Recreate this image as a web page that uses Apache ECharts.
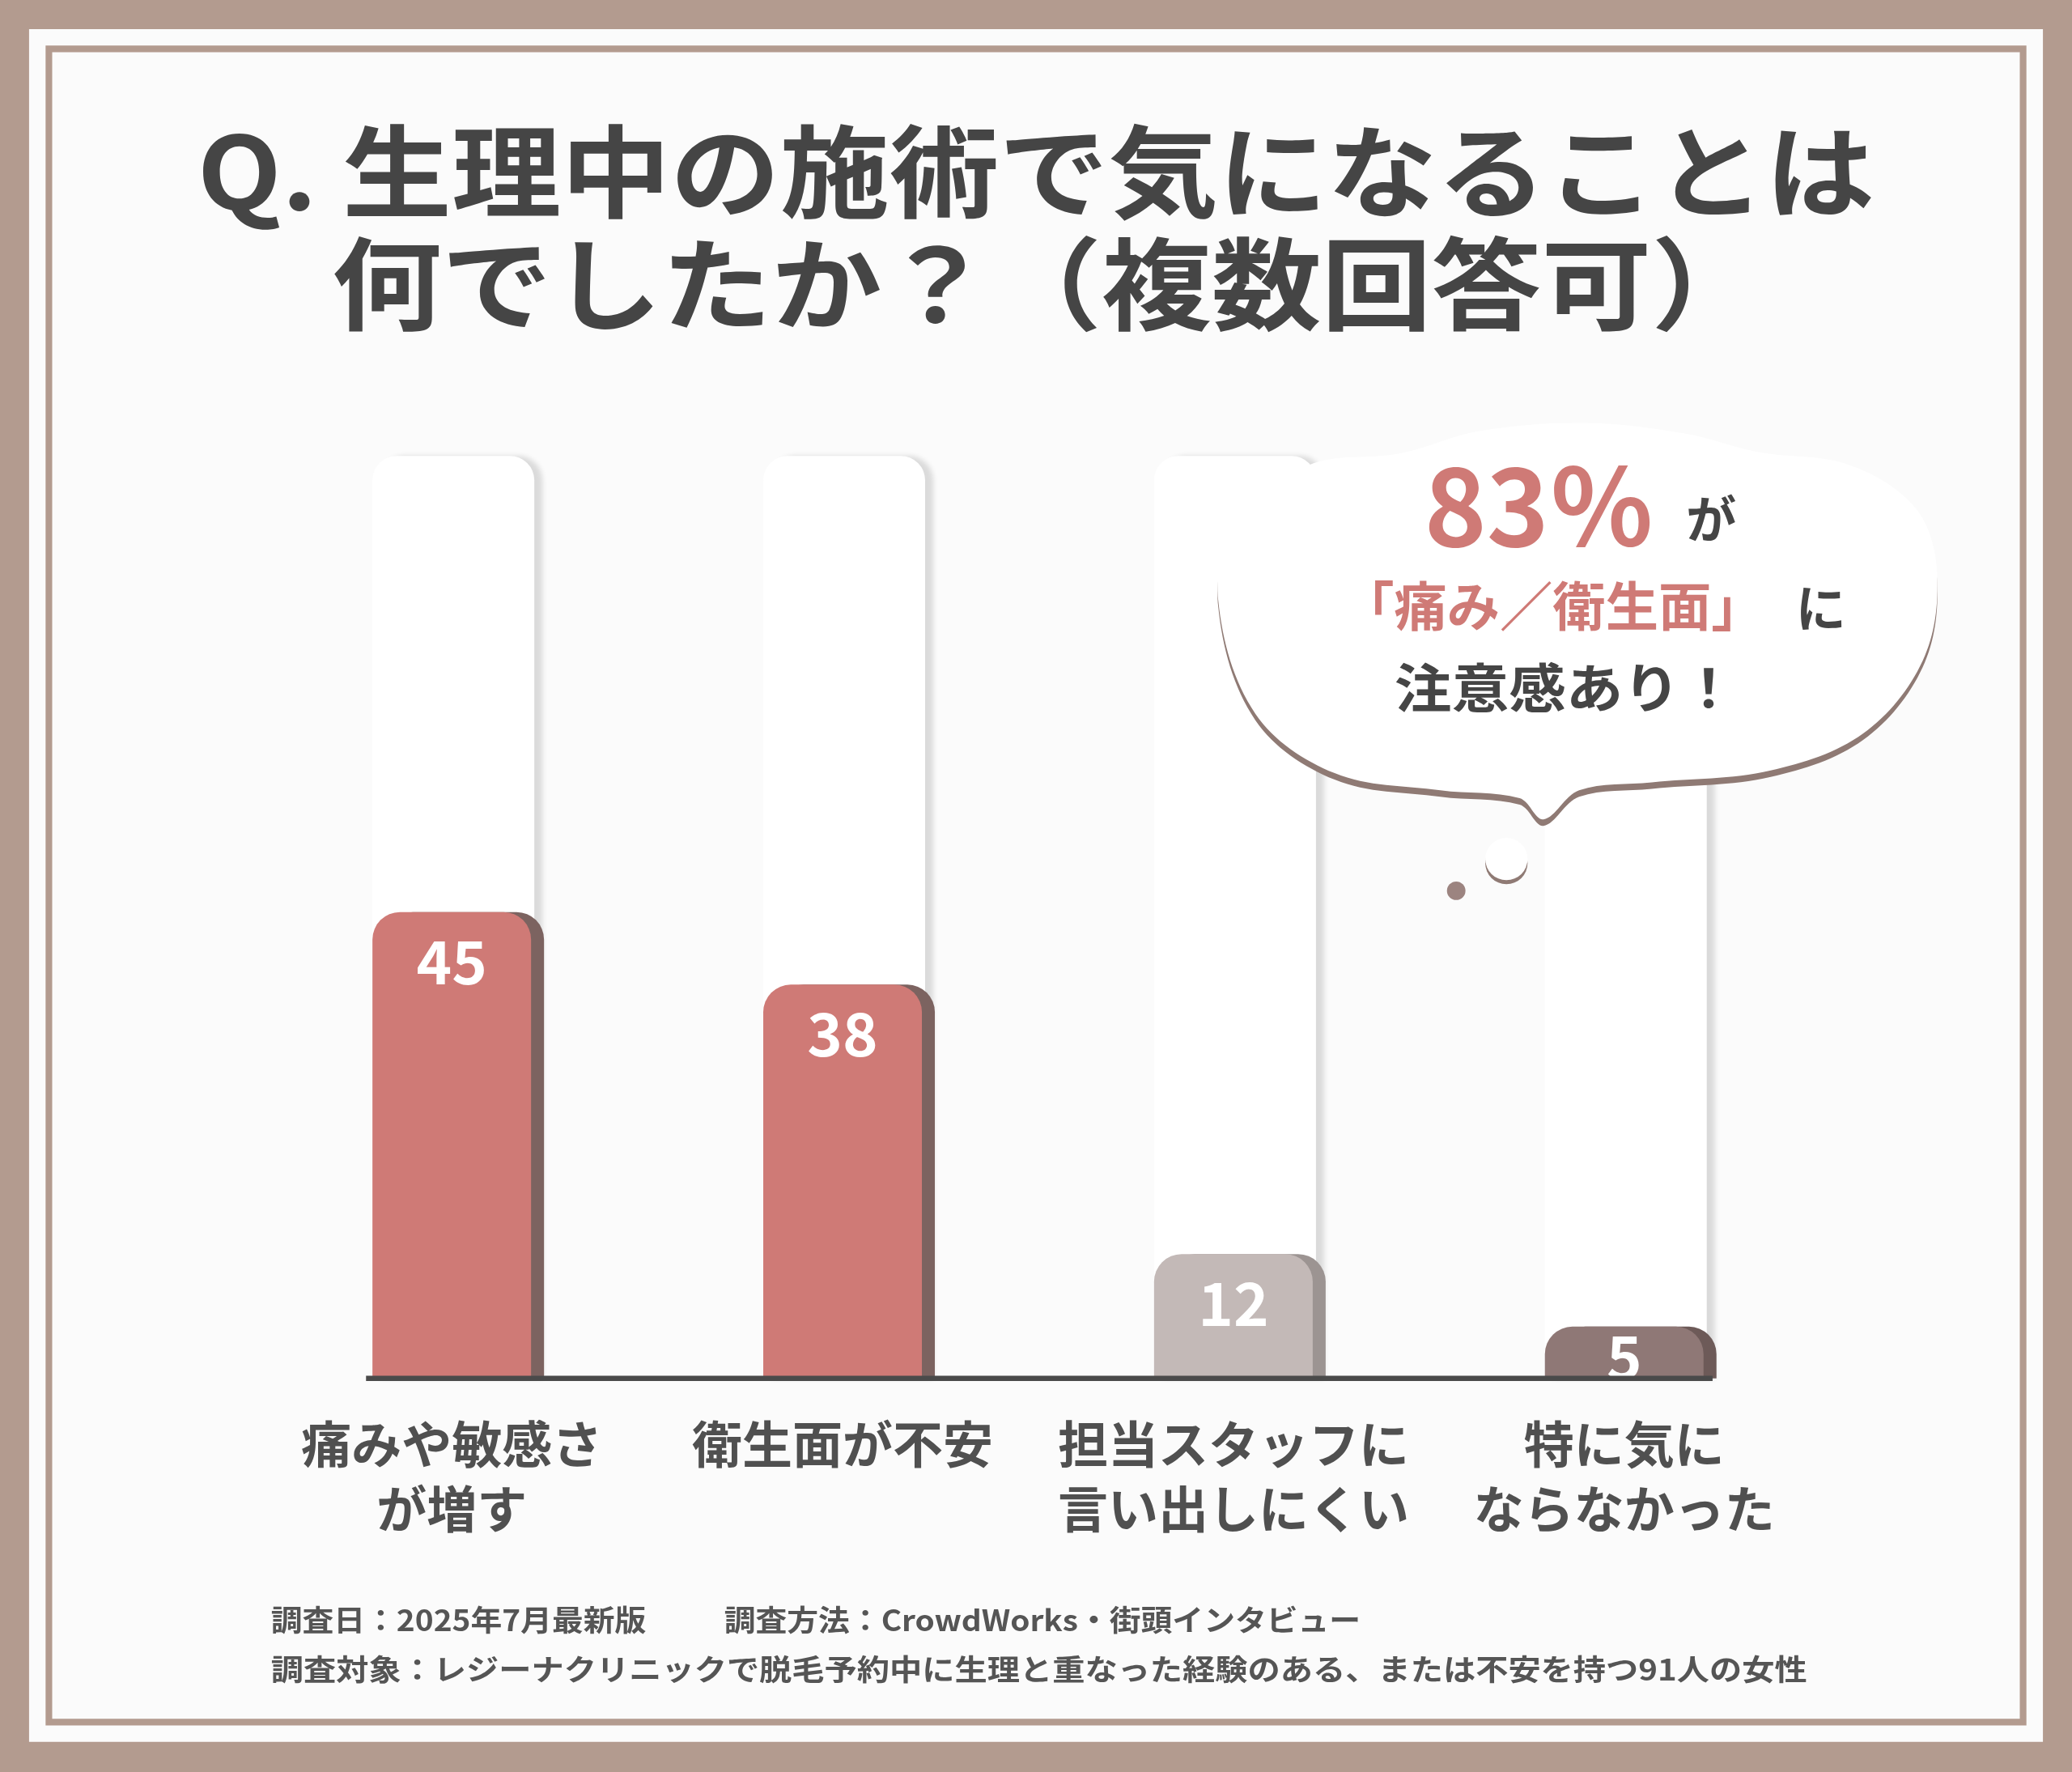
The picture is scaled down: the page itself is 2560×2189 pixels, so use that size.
<!DOCTYPE html>
<html><head><meta charset="utf-8">
<script src="https://cdn.jsdelivr.net/npm/echarts@6/dist/echarts.min.js"></script>
<style>html,body{margin:0;padding:0;background:#b39b8f}#c{width:2560px;height:2189px}</style>
</head><body><div id="c"></div>
<script>
const categories = ['痛みや敏感さ\nが増す', '衛生面が不安', '担当スタッフに\n言い出しにくい', '特に気に\nならなかった'];
const values = [45, 38, 12, 5];
const barColors = ['#cf7a76', '#cf7a76', '#c3b9b7', '#8f7876'];
const edgeColors = ['#7c6360', '#7c6360', '#9c9492', '#6d5a58'];
const trackMax = 89;

const S = 2560 / 1568;
const F = '"Noto Sans CJK JP", sans-serif';
const chart = echarts.init(document.getElementById('c'), null, {renderer: 'canvas'});
const txt = (x, y, text, size, color, align, sx, z) => ({
  type: 'text', x, y, scaleX: sx || 1, z: z || 0,
  style: {text, fontSize: size, fontWeight: 'bold', fill: color, fontFamily: F, align: align || 'center', verticalAlign: 'middle'}
});
const cloud = [[922,455],[935,395],[990,352],[1060,343],[1120,326],[1200,320],[1275,328],[1330,342],[1400,352],[1450,385],[1466,435],[1455,500],[1410,555],[1340,583],[1250,592],[1195,598],[1168,620],[1150,604],[1090,598],[1010,585],[950,540]];
const ZB = 200;

chart.setOption({
  backgroundColor: '#b39b8f',
  grid: {left: 194 * S, right: 2560 - 1377 * S, top: 345 * S, bottom: 2189 - 1043 * S},
  xAxis: {
    type: 'category', data: categories,
    axisLine: {show: false}, axisTick: {show: false},
    axisLabel: {interval: 0, color: '#505050', fontSize: 62, fontWeight: 'bold', fontFamily: F, lineHeight: 80, margin: 42, verticalAlign: 'top'}
  },
  yAxis: {type: 'value', min: 0, max: trackMax, show: false, splitLine: {show: false}},
  series: [
    {
      type: 'bar', data: values.map(() => trackMax), barWidth: 200, barGap: '-100%', silent: true, z: 1,
      itemStyle: {color: '#ffffff', borderRadius: [30, 30, 0, 0], shadowColor: 'rgba(0,0,0,0.13)', shadowOffsetX: 10, shadowBlur: 6}
    },
    {
      type: 'bar', barWidth: 196, z: 3,
      data: values.map((v, i) => ({value: v, itemStyle: {color: barColors[i], shadowColor: edgeColors[i]},
        label: {distance: v < 10 ? 0 : 24}})),
      itemStyle: {borderRadius: [34, 34, 0, 0], shadowOffsetX: 16, shadowBlur: 0},
      label: {show: true, position: 'insideTop', color: '#fff', fontSize: 74, fontWeight: 'bold', fontFamily: F}
    }
  ],
  graphic: [
    {
      type: 'group', scaleX: S, scaleY: S, z: -10,
      children: [
        {type: 'rect', z: -10, shape: {x: 22, y: 22, width: 1524, height: 1296}, style: {fill: '#fbfbfb'}},
        {type: 'rect', z: -9, shape: {x: 37, y: 37, width: 1494, height: 1266}, style: {fill: 'none', stroke: '#b39b8f', lineWidth: 5}},
        txt(784, 130, 'Q. 生理中の施術で気になることは', 76, '#454545', 'center', 1.09),
        txt(792, 215, '何でしたか？（複数回答可）', 76, '#454545', 'center', 1.095),
        txt(205, 1226, '調査日：2025年7月最新版', 22, '#555', 'left', 1.08),
        txt(548, 1226, '調査方法：CrowdWorks・街頭インタビュー', 22, '#555', 'left', 1.08),
        txt(205, 1263, '調査対象：レジーナクリニックで脱毛予約中に生理と重なった経験のある、または不安を持つ91人の女性', 22, '#555', 'left', 1.12)
      ]
    },
    {
      type: 'group', scaleX: S, scaleY: S, z: ZB, zlevel: 2,
      children: [
        {type: 'line', z: ZB, zlevel: 2, shape: {x1: 277, y1: 1043, x2: 1296, y2: 1043}, style: {stroke: '#4a4a4a', lineWidth: 4}},
        {type: 'polygon', z: ZB, zlevel: 2, shape: {points: cloud, smooth: 0.35},
          style: {fill: '#ffffff', shadowColor: '#8f7a74', shadowOffsetY: 8, shadowBlur: 0}},
        {type: 'circle', z: ZB, zlevel: 2, shape: {cx: 1140, cy: 650, r: 16}, style: {fill: '#fff', shadowColor: '#8f7a74', shadowOffsetY: 5, shadowBlur: 0}},
        {type: 'circle', z: ZB, zlevel: 2, shape: {cx: 1102, cy: 674, r: 7}, style: {fill: '#9c8480'}},
        Object.assign(txt(1165, 383, '83％', 80, '#cf7a76', 'center', 1, ZB + 1), {zlevel: 2}),
        Object.assign(txt(1295, 393, 'が', 38, '#454545', 'center', 1, ZB + 1), {zlevel: 2}),
        Object.assign(txt(1175, 458, '「痛み／衛生面」', 40, '#cf7a76', 'center', 1, ZB + 1), {zlevel: 2}),
        Object.assign(txt(1378, 460, 'に', 38, '#454545', 'center', 1, ZB + 1), {zlevel: 2}),
        Object.assign(txt(1185, 520, '注意感あり！', 40, '#454545', 'center', 1.08, ZB + 1), {zlevel: 2})
      ]
    }
  ]
});
</script></body></html>
